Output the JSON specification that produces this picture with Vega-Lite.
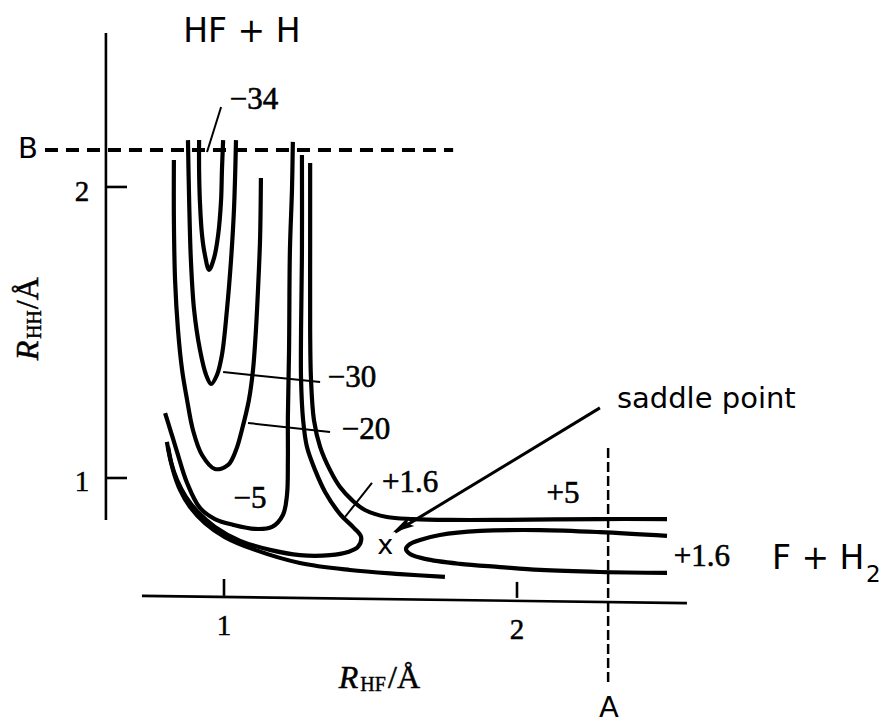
{
  "$schema": "https://vega.github.io/schema/vega-lite/v6.json",
  "width": 889,
  "height": 725,
  "autosize": {"type": "none"},
  "padding": 0,
  "background": "white",
  "view": {"stroke": null},
  "config": {"text": {"color": "black"}},
  "encoding": {
    "x": {"field": "x", "type": "quantitative", "scale": {"domain": [0.2355, 3.2696], "nice": false, "zero": false}, "axis": null},
    "y": {"field": "y", "type": "quantitative", "scale": {"domain": [0.1513, 2.6424], "nice": false, "zero": false}, "axis": null}
  },
  "layer": [
    {
      "data": {"values": [
        {"id": "c34", "o": 1, "x": 0.915, "y": 2.161}, {"id": "c34", "o": 2, "x": 0.915, "y": 2.058}, {"id": "c34", "o": 3, "x": 0.918, "y": 1.945}, {"id": "c34", "o": 4, "x": 0.925, "y": 1.835}, {"id": "c34", "o": 5, "x": 0.935, "y": 1.766}, {"id": "c34", "o": 6, "x": 0.949, "y": 1.715}, {"id": "c34", "o": 7, "x": 0.966, "y": 1.756}, {"id": "c34", "o": 8, "x": 0.980, "y": 1.835}, {"id": "c34", "o": 9, "x": 0.990, "y": 1.955}, {"id": "c34", "o": 10, "x": 0.993, "y": 2.058}, {"id": "c34", "o": 11, "x": 0.997, "y": 2.161},
        {"id": "c30", "o": 1, "x": 0.877, "y": 2.161}, {"id": "c30", "o": 2, "x": 0.881, "y": 1.955}, {"id": "c30", "o": 3, "x": 0.887, "y": 1.749}, {"id": "c30", "o": 4, "x": 0.898, "y": 1.577}, {"id": "c30", "o": 5, "x": 0.918, "y": 1.440}, {"id": "c30", "o": 6, "x": 0.939, "y": 1.354}, {"id": "c30", "o": 7, "x": 0.956, "y": 1.323}, {"id": "c30", "o": 8, "x": 0.976, "y": 1.354}, {"id": "c30", "o": 9, "x": 0.993, "y": 1.423}, {"id": "c30", "o": 10, "x": 1.010, "y": 1.577}, {"id": "c30", "o": 11, "x": 1.024, "y": 1.749}, {"id": "c30", "o": 12, "x": 1.034, "y": 1.921}, {"id": "c30", "o": 13, "x": 1.041, "y": 2.161},
        {"id": "c20", "o": 1, "x": 0.829, "y": 2.093}, {"id": "c20", "o": 2, "x": 0.829, "y": 1.886}, {"id": "c20", "o": 3, "x": 0.833, "y": 1.680}, {"id": "c20", "o": 4, "x": 0.843, "y": 1.509}, {"id": "c20", "o": 5, "x": 0.857, "y": 1.371}, {"id": "c20", "o": 6, "x": 0.874, "y": 1.268}, {"id": "c20", "o": 7, "x": 0.894, "y": 1.165}, {"id": "c20", "o": 8, "x": 0.925, "y": 1.079}, {"id": "c20", "o": 9, "x": 0.969, "y": 1.031}, {"id": "c20", "o": 10, "x": 1.014, "y": 1.045}, {"id": "c20", "o": 11, "x": 1.041, "y": 1.096}, {"id": "c20", "o": 12, "x": 1.061, "y": 1.165}, {"id": "c20", "o": 13, "x": 1.085, "y": 1.268}, {"id": "c20", "o": 14, "x": 1.099, "y": 1.371}, {"id": "c20", "o": 15, "x": 1.109, "y": 1.509}, {"id": "c20", "o": 16, "x": 1.116, "y": 1.646}, {"id": "c20", "o": 17, "x": 1.123, "y": 1.818}, {"id": "c20", "o": 18, "x": 1.126, "y": 2.031},
        {"id": "c5", "o": 1, "x": 0.799, "y": 1.223}, {"id": "c5", "o": 2, "x": 0.819, "y": 1.158}, {"id": "c5", "o": 3, "x": 0.840, "y": 1.089}, {"id": "c5", "o": 4, "x": 0.874, "y": 0.983}, {"id": "c5", "o": 5, "x": 0.918, "y": 0.897}, {"id": "c5", "o": 6, "x": 0.969, "y": 0.859}, {"id": "c5", "o": 7, "x": 1.031, "y": 0.839}, {"id": "c5", "o": 8, "x": 1.106, "y": 0.825}, {"id": "c5", "o": 9, "x": 1.164, "y": 0.832}, {"id": "c5", "o": 10, "x": 1.201, "y": 0.873}, {"id": "c5", "o": 11, "x": 1.215, "y": 0.942}, {"id": "c5", "o": 12, "x": 1.218, "y": 1.062}, {"id": "c5", "o": 13, "x": 1.218, "y": 1.210}, {"id": "c5", "o": 14, "x": 1.222, "y": 1.440}, {"id": "c5", "o": 15, "x": 1.225, "y": 1.783}, {"id": "c5", "o": 16, "x": 1.232, "y": 1.990}, {"id": "c5", "o": 17, "x": 1.235, "y": 2.155},
        {"id": "p1", "o": 1, "x": 0.805, "y": 1.124}, {"id": "p1", "o": 2, "x": 0.819, "y": 1.055}, {"id": "p1", "o": 3, "x": 0.840, "y": 0.993}, {"id": "p1", "o": 4, "x": 0.870, "y": 0.935}, {"id": "p1", "o": 5, "x": 0.911, "y": 0.883}, {"id": "p1", "o": 6, "x": 0.969, "y": 0.832}, {"id": "p1", "o": 7, "x": 1.055, "y": 0.784}, {"id": "p1", "o": 8, "x": 1.157, "y": 0.753}, {"id": "p1", "o": 9, "x": 1.259, "y": 0.735}, {"id": "p1", "o": 10, "x": 1.362, "y": 0.735}, {"id": "p1", "o": 11, "x": 1.423, "y": 0.746}, {"id": "p1", "o": 12, "x": 1.457, "y": 0.763}, {"id": "p1", "o": 13, "x": 1.468, "y": 0.797}, {"id": "p1", "o": 14, "x": 1.444, "y": 0.828}, {"id": "p1", "o": 15, "x": 1.396, "y": 0.876}, {"id": "p1", "o": 16, "x": 1.345, "y": 0.952}, {"id": "p1", "o": 17, "x": 1.311, "y": 1.027}, {"id": "p1", "o": 18, "x": 1.283, "y": 1.107}, {"id": "p1", "o": 19, "x": 1.270, "y": 1.199}, {"id": "p1", "o": 20, "x": 1.263, "y": 1.337}, {"id": "p1", "o": 21, "x": 1.263, "y": 1.509}, {"id": "p1", "o": 22, "x": 1.266, "y": 1.783}, {"id": "p1", "o": 23, "x": 1.266, "y": 2.110},
        {"id": "p2", "o": 1, "x": 1.294, "y": 2.082}, {"id": "p2", "o": 2, "x": 1.294, "y": 1.783}, {"id": "p2", "o": 3, "x": 1.294, "y": 1.509}, {"id": "p2", "o": 4, "x": 1.297, "y": 1.337}, {"id": "p2", "o": 5, "x": 1.307, "y": 1.199}, {"id": "p2", "o": 6, "x": 1.328, "y": 1.107}, {"id": "p2", "o": 7, "x": 1.362, "y": 1.027}, {"id": "p2", "o": 8, "x": 1.396, "y": 0.969}, {"id": "p2", "o": 9, "x": 1.437, "y": 0.924}, {"id": "p2", "o": 10, "x": 1.481, "y": 0.890}, {"id": "p2", "o": 11, "x": 1.556, "y": 0.866}, {"id": "p2", "o": 12, "x": 1.645, "y": 0.859}, {"id": "p2", "o": 13, "x": 1.771, "y": 0.856}, {"id": "p2", "o": 14, "x": 1.942, "y": 0.856}, {"id": "p2", "o": 15, "x": 2.283, "y": 0.859}, {"id": "p2", "o": 16, "x": 2.512, "y": 0.859},
        {"id": "cc", "o": 1, "x": 2.512, "y": 0.801}, {"id": "cc", "o": 2, "x": 2.283, "y": 0.814}, {"id": "cc", "o": 3, "x": 2.078, "y": 0.821}, {"id": "cc", "o": 4, "x": 1.874, "y": 0.818}, {"id": "cc", "o": 5, "x": 1.737, "y": 0.804}, {"id": "cc", "o": 6, "x": 1.669, "y": 0.787}, {"id": "cc", "o": 7, "x": 1.635, "y": 0.773}, {"id": "cc", "o": 8, "x": 1.621, "y": 0.756}, {"id": "cc", "o": 9, "x": 1.635, "y": 0.739}, {"id": "cc", "o": 10, "x": 1.686, "y": 0.722}, {"id": "cc", "o": 11, "x": 1.805, "y": 0.705}, {"id": "cc", "o": 12, "x": 1.942, "y": 0.694}, {"id": "cc", "o": 13, "x": 2.078, "y": 0.684}, {"id": "cc", "o": 14, "x": 2.283, "y": 0.677}, {"id": "cc", "o": 15, "x": 2.512, "y": 0.674},
        {"id": "lo", "o": 1, "x": 0.809, "y": 1.107}, {"id": "lo", "o": 2, "x": 0.826, "y": 1.027}, {"id": "lo", "o": 3, "x": 0.850, "y": 0.959}, {"id": "lo", "o": 4, "x": 0.884, "y": 0.900}, {"id": "lo", "o": 5, "x": 0.935, "y": 0.845}, {"id": "lo", "o": 6, "x": 1.003, "y": 0.797}, {"id": "lo", "o": 7, "x": 1.106, "y": 0.753}, {"id": "lo", "o": 8, "x": 1.259, "y": 0.708}, {"id": "lo", "o": 9, "x": 1.430, "y": 0.684}, {"id": "lo", "o": 10, "x": 1.601, "y": 0.670}, {"id": "lo", "o": 11, "x": 1.754, "y": 0.660}
      ]},
      "mark": {"type": "line", "interpolate": "catmull-rom", "stroke": "black", "strokeWidth": 4.2, "strokeCap": "butt", "strokeJoin": "round"},
      "encoding": {"detail": {"field": "id"}, "order": {"field": "o", "type": "quantitative"}}
    },
    {
      "data": {"values": [
        {"x": 0.990, "y": 2.275, "x2": 0.942, "y2": 2.120},
        {"x": 0.997, "y": 1.364, "x2": 1.328, "y2": 1.330},
        {"x": 1.082, "y": 1.189, "x2": 1.362, "y2": 1.158},
        {"x": 1.505, "y": 0.983, "x2": 1.413, "y2": 0.866}
      ]},
      "mark": {"type": "rule", "stroke": "black", "strokeWidth": 2},
      "encoding": {"x2": {"field": "x2"}, "y2": {"field": "y2"}}
    },
    {
      "data": {"values": [
        {"x": 2.283, "y": 1.241, "x2": 1.584, "y2": 0.814}
      ]},
      "mark": {"type": "rule", "stroke": "black", "strokeWidth": 3},
      "encoding": {"x2": {"field": "x2"}, "y2": {"field": "y2"}}
    },
    {
      "data": {"values": [{"x": 1.608, "y": 0.832}]},
      "mark": {"type": "point", "shape": "M0,-1L0.5,1L0,0.55L-0.5,1Z", "filled": true, "color": "black", "size": 480, "angle": 238.8, "opacity": 1}
    },
    {
      "data": {"values": [
        {"x": 0.597, "y": 2.529, "x2": 0.597, "y2": 0.856},
        {"x": 0.597, "y": 2.000, "x2": 0.669, "y2": 2.000},
        {"x": 0.597, "y": 1.000, "x2": 0.669, "y2": 1.000},
        {"x": 0.720, "y": 0.595, "x2": 2.580, "y2": 0.570},
        {"x": 1.000, "y": 0.595, "x2": 1.000, "y2": 0.653},
        {"x": 2.000, "y": 0.588, "x2": 2.000, "y2": 0.643}
      ]},
      "mark": {"type": "rule", "stroke": "black", "strokeWidth": 2.6},
      "encoding": {"x2": {"field": "x2"}, "y2": {"field": "y2"}}
    },
    {
      "data": {"values": [{"x": 0.389, "y": 2.127, "x2": 1.782, "y2": 2.127}]},
      "mark": {"type": "rule", "stroke": "black", "strokeWidth": 3.8, "strokeDash": [13, 8]},
      "encoding": {"x2": {"field": "x2"}, "y2": {"field": "y2"}}
    },
    {
      "data": {"values": [{"x": 2.311, "y": 1.103, "x2": 2.311, "y2": 0.289}]},
      "mark": {"type": "rule", "stroke": "black", "strokeWidth": 2.5, "strokeDash": [10, 4]},
      "encoding": {"x2": {"field": "x2"}, "y2": {"field": "y2"}}
    },
    {
      "data": {"values": [
        {"x": 1.102, "y": 2.299, "t": "−34"},
        {"x": 1.437, "y": 1.344, "t": "−30"},
        {"x": 1.485, "y": 1.165, "t": "−20"},
        {"x": 1.089, "y": 0.928, "t": "−5"},
        {"x": 1.635, "y": 0.983, "t": "+1.6"},
        {"x": 2.157, "y": 0.945, "t": "+5"},
        {"x": 2.631, "y": 0.729, "t": "+1.6"}
      ]},
      "mark": {"type": "text", "font": "Liberation Serif", "fontSize": 31, "align": "center", "baseline": "middle", "stroke": "black", "strokeWidth": 0.6},
      "encoding": {"text": {"field": "t"}}
    },
    {
      "data": {"values": [
        {"x": 0.515, "y": 1.983, "t": "2"},
        {"x": 0.515, "y": 0.986, "t": "1"},
        {"x": 1.000, "y": 0.491, "t": "1"},
        {"x": 2.000, "y": 0.478, "t": "2"}
      ]},
      "mark": {"type": "text", "font": "Liberation Serif", "fontSize": 29, "align": "center", "baseline": "middle", "stroke": "black", "strokeWidth": 0.5},
      "encoding": {"text": {"field": "t"}}
    },
    {
      "data": {"values": [{"x": 1.061, "y": 2.532, "t": "HF + H"}]},
      "mark": {"type": "text", "font": "DejaVu Sans", "fontSize": 33, "align": "center", "baseline": "middle"},
      "encoding": {"text": {"field": "t"}}
    },
    {
      "data": {"values": [
        {"x": 0.331, "y": 2.100, "t": "B"},
        {"x": 2.314, "y": 0.180, "t": "A"}
      ]},
      "mark": {"type": "text", "font": "DejaVu Sans", "fontSize": 29, "align": "center", "baseline": "alphabetic"},
      "encoding": {"text": {"field": "t"}}
    },
    {
      "data": {"values": [{"x": 2.870, "y": 0.687, "t": "F + H"}]},
      "mark": {"type": "text", "font": "DejaVu Sans", "fontSize": 33, "align": "left", "baseline": "alphabetic"},
      "encoding": {"text": {"field": "t"}}
    },
    {
      "data": {"values": [{"x": 3.191, "y": 0.643, "t": "2"}]},
      "mark": {"type": "text", "font": "DejaVu Sans", "fontSize": 23, "align": "left", "baseline": "alphabetic"},
      "encoding": {"text": {"field": "t"}}
    },
    {
      "data": {"values": [{"x": 2.341, "y": 1.241, "t": "saddle point"}]},
      "mark": {"type": "text", "font": "DejaVu Sans", "fontSize": 29, "align": "left", "baseline": "alphabetic"},
      "encoding": {"text": {"field": "t"}}
    },
    {
      "data": {"values": [{"x": 1.550, "y": 0.766, "t": "x"}]},
      "mark": {"type": "text", "font": "DejaVu Sans", "fontSize": 27, "align": "center", "baseline": "middle"},
      "encoding": {"text": {"field": "t"}}
    },
    {
      "data": {"values": [{"x": 1.392, "y": 0.278, "t": "R"}]},
      "mark": {"type": "text", "font": "Liberation Serif", "fontStyle": "italic", "fontSize": 32, "align": "left", "baseline": "alphabetic", "stroke": "black", "strokeWidth": 0.5},
      "encoding": {"text": {"field": "t"}}
    },
    {
      "data": {"values": [{"x": 1.465, "y": 0.268, "t": "HF"}]},
      "mark": {"type": "text", "font": "Liberation Serif", "fontSize": 20, "align": "left", "baseline": "alphabetic", "stroke": "black", "strokeWidth": 0.4},
      "encoding": {"text": {"field": "t"}}
    },
    {
      "data": {"values": [{"x": 1.560, "y": 0.278, "t": "/Å"}]},
      "mark": {"type": "text", "font": "Liberation Serif", "fontSize": 32, "align": "left", "baseline": "alphabetic", "stroke": "black", "strokeWidth": 0.5},
      "encoding": {"text": {"field": "t"}}
    },
    {
      "data": {"values": [{"x": 0.365, "y": 1.405, "t": "R"}]},
      "mark": {"type": "text", "font": "Liberation Serif", "fontStyle": "italic", "fontSize": 32, "align": "left", "baseline": "alphabetic", "angle": 270, "stroke": "black", "strokeWidth": 0.5},
      "encoding": {"text": {"field": "t"}}
    },
    {
      "data": {"values": [{"x": 0.375, "y": 1.478, "t": "HH"}]},
      "mark": {"type": "text", "font": "Liberation Serif", "fontSize": 20, "align": "left", "baseline": "alphabetic", "angle": 270, "stroke": "black", "strokeWidth": 0.4},
      "encoding": {"text": {"field": "t"}}
    },
    {
      "data": {"values": [{"x": 0.365, "y": 1.580, "t": "/Å"}]},
      "mark": {"type": "text", "font": "Liberation Serif", "fontSize": 32, "align": "left", "baseline": "alphabetic", "angle": 270, "stroke": "black", "strokeWidth": 0.5},
      "encoding": {"text": {"field": "t"}}
    }
  ]
}
